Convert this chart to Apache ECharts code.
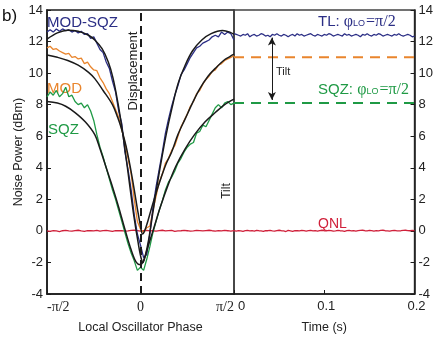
<!DOCTYPE html>
<html><head><meta charset="utf-8">
<script src="https://cdn.jsdelivr.net/npm/echarts@6/dist/echarts.min.js"></script>
<style>html,body{margin:0;padding:0;background:#fff}#c{width:436px;height:339px}</style>
</head><body><div id="c"></div>
<script>
// ---- tick labels ----
const phaseTickLabels = ['-π/2', '0', 'π/2'];   // at -90, 0, 90 degrees
const timeTickLabels = ['0', '0.1', '0.2'];

// ---- sampling grids ----
const phaseStartDeg = -90, phaseStepDeg = 3;     // left panel traces
const timeStart = 0, timeStep = 0.0025;          // right panel traces

// ---- left panel: measured traces (dBm) vs LO phase ----
const modSqzTrace = [12.6,12.75,12.6,12.8,12.65,12.8,12.7,12.75,12.6,12.7,
  12.55,12.65,12.45,12.5,12.2,12.3,11.9,11.5,11.3,10.7,
  10.3,9.5,8.8,7.6,6.8,5.0,3.9,2.6,1.0,-0.2,
  -0.9,-1.7,-1.5,-0.2,1.5,2.8,3.9,5.0,6.2,7.1,
  7.9,8.6,9.2,9.9,10.2,10.6,11.0,11.3,11.6,11.7,
  11.9,12.0,12.1,12.3,12.4,12.3,12.6,12.45,12.6,12.5,
  12.1];
const modTrace = [11.6,11.7,11.5,11.55,11.4,11.3,11.2,11.25,11.0,11.05,
  10.9,10.95,10.6,10.7,10.4,10.2,10.15,9.7,9.4,9.0,
  8.7,8.2,7.7,7.2,6.4,5.6,4.6,3.6,2.0,0.6,
  0.1,-0.1,0.2,0.3,1.3,2.2,3.1,3.6,4.3,4.6,
  5.1,5.4,6.0,6.6,7.0,7.4,7.9,8.2,8.7,8.9,
  9.3,9.6,9.8,10.1,10.2,10.5,10.6,10.8,10.9,11.0,
  11.1];
const sqzTrace = [8.5,8.8,8.6,8.9,8.5,8.7,9.1,8.5,8.6,8.2,
  8.0,8.1,7.8,8.0,7.6,7.0,6.1,5.3,4.7,4.0,
  3.3,2.6,2.0,1.3,0.6,-0.1,-0.8,-1.4,-1.9,-2.5,
  -2.3,-2.5,-1.8,-1.0,-0.1,0.6,1.3,1.9,2.6,3.1,
  3.4,3.8,4.3,4.6,5.0,5.3,5.5,5.6,6.2,6.3,
  6.7,6.6,7.0,7.4,7.8,8.0,7.8,8.1,8.2,8.0,
  8.1];
const qnlPhaseTrace = [0.00,-0.03,0.02,0.00,-0.04,0.01,0.03,0.00,-0.02,0.02,
  0.04,0.00,-0.03,0.01,0.02,0.00,0.03,-0.01,0.02,0.03,
  0.00,-0.03,0.01,0.02,0.01,-0.02,0.00,0.03,0.04,0.01,
  -0.02,0.02,0.03,0.00,0.01,-0.01,0.02,0.04,0.00,0.02,
  0.03,-0.03,0.00,0.01,0.03,0.01,-0.02,0.00,0.03,0.02,
  0.00,0.02,0.04,0.01,-0.01,0.02,0.00,0.03,0.01,-0.02,
  0.01];

// ---- left panel: fitted curves [phase deg, dBm] ----
const modSqzFit = [[-90,12.15],[-80,12.55],[-70,12.72],[-60,12.65],[-50,12.4],[-44,12.1],[-37,11.55],
  [-31,10.7],[-26.5,9.7],[-21.7,8.1],[-17.8,6.5],[-14,4.7],[-10,2.7],[-6.3,0.9],[-2.4,-0.7],
  [0.5,-1.7],[2.4,-2.0],[4.5,-1.6],[8,-0.5],[12,1.2],[16,2.9],[21,4.8],[25,6.2],[30,7.7],
  [36,9.3],[43,10.5],[50,11.4],[59,12.1],[68,12.5],[79,12.7],[86,12.6],[90,12.45]];
const modFit = [[-90,11.15],[-80,11.0],[-70,10.8],[-60,10.5],[-50,10.05],[-44,9.65],[-36,8.9],
  [-27,8.0],[-22,7.2],[-18,6.4],[-14,5.4],[-10,4.1],[-6,2.6],[-3,1.4],[0,0.3],[2,-0.2],
  [4,0.0],[7,0.6],[10,1.3],[15,2.4],[20,3.4],[25,4.3],[30,5.0],[36,6.1],[43,7.1],[50,8.1],
  [57,9.0],[65,9.8],[72,10.3],[80,10.8],[86,11.05],[90,11.2]];
const sqzFit = [[-90,8.2],[-80,8.1],[-72,7.9],[-63,7.5],[-53,6.9],[-44,6.1],[-39,5.2],[-33,4.0],
  [-27,2.8],[-21,1.5],[-15,0.1],[-9,-1.2],[-4,-2.0],[0,-2.15],[3.4,-1.8],[7.2,-1.0],[12,0.0],
  [19,1.5],[26.5,2.9],[34,4.1],[43,5.2],[52,6.1],[62,6.9],[72,7.5],[81,8.0],[90,8.35]];
const displacementPhase = 0;

// ---- right panel: traces vs time (s) ----
const tlTrace = [12.50,12.45,12.40,12.35,12.45,12.40,12.50,12.30,12.40,12.45,
  12.35,12.40,12.50,12.45,12.35,12.40,12.30,12.45,12.40,12.50,
  12.40,12.35,12.45,12.40,12.30,12.40,12.45,12.35,12.50,12.40,
  12.45,12.35,12.40,12.45,12.50,12.40,12.35,12.45,12.40,12.35,
  12.45,12.40,12.50,12.45,12.35,12.40,12.45,12.40,12.35,12.50,
  12.40,12.45,12.35,12.40,12.45,12.40,12.30,12.45,12.40,12.50,
  12.40,12.35,12.45,12.40,12.50,12.45,12.35,12.40,12.45,12.40,
  12.35,12.45,12.40,12.50,12.40,12.35,12.40,12.45,12.40,12.30,
  12.35];
const qnlTimeTrace = [0.01,-0.02,0.02,0.00,-0.03,0.01,0.03,0.00,0.01,-0.02,
  0.03,0.01,0.00,-0.03,0.02,0.01,0.03,0.00,-0.02,0.02,
  0.04,0.01,0.00,-0.04,0.03,0.00,-0.03,0.01,0.02,0.00,
  0.03,0.01,-0.02,0.01,0.03,0.00,0.01,-0.02,0.02,0.04,
  0.01,0.00,0.03,0.01,-0.02,0.00,0.03,0.01,0.00,-0.03,
  0.01,0.03,0.00,0.02,-0.02,0.01,0.03,0.04,0.01,0.00,
  0.03,0.01,-0.02,0.01,0.00,0.03,0.04,0.01,0.00,-0.02,
  0.02,0.03,0.01,0.00,0.01,0.03,0.04,0.02,0.01,0.03,
  0.01];
const modLevel = 11.0;     // MOD at phi=pi/2 (dashed)
const sqzLevel = 8.1;      // SQZ at phi=pi/2 (dashed)
const tiltArrow = {t: 0.042, from: 12.25, to: 8.3};

// ---- colours ----
const NAVY = '#2b2e85', ORANGE = '#e9852d', GREEN = '#1f9a45', RED = '#d0203a', INK = '#1a1a1a';

const onPhase = arr => arr.map((v, i) => [phaseStartDeg + i * phaseStepDeg, v]);
const onTime = arr => arr.map((v, i) => [timeStart + i * timeStep, v]);

const SANS = 'Liberation Sans';
const axisLabelStyle = {fontFamily: SANS, fontSize: 13, color: '#222'};
const axisLineStyle = {show: true, onZero: false, lineStyle: {color: INK, width: 1.5}};
const axisTickStyle = {show: true, inside: true, length: 4, lineStyle: {color: INK}};

const chart = echarts.init(document.getElementById('c'), null, {renderer: 'canvas'});
const yCommon = {
  type: 'value', min: -4, max: 14, interval: 2,
  splitLine: {show: false},
  axisLine: axisLineStyle,
  axisTick: axisTickStyle
};
chart.setOption({
  animation: false,
  backgroundColor: '#fff',
  grid: [
    {left: 47, right: 202, top: 10, bottom: 39, show: true, borderColor: INK, borderWidth: 1.5, backgroundColor: 'transparent'},
    {left: 234, right: 21, top: 10, bottom: 39, show: true, borderColor: '#444', borderWidth: 1.5, backgroundColor: 'transparent'}
  ],
  xAxis: [
    {gridIndex: 0, type: 'value', min: -90, max: 90, interval: 90,
     name: 'Local Oscillator Phase', nameLocation: 'middle', nameGap: 27,
     nameTextStyle: {fontFamily: SANS, fontSize: 12.5, color: '#222'},
     splitLine: {show: false},
     axisLine: axisLineStyle,
     axisTick: axisTickStyle,
     axisLabel: {fontFamily: 'Liberation Serif', fontSize: 14, color: '#222', margin: 6,
       alignMinLabel: 'left', alignMaxLabel: 'right',
       formatter: v => phaseTickLabels[Math.round((v + 90) / 90)]}},
    {gridIndex: 1, type: 'value', min: 0, max: 0.2, interval: 0.1,
     name: 'Time (s)', nameLocation: 'middle', nameGap: 27,
     nameTextStyle: {fontFamily: SANS, fontSize: 12.5, color: '#222'},
     splitLine: {show: false},
     axisLine: axisLineStyle,
     axisTick: axisTickStyle,
     axisLabel: Object.assign({}, axisLabelStyle, {margin: 6, alignMinLabel: 'left', padding: [0, 0, 0, 4],
       formatter: v => timeTickLabels[Math.round(v / 0.1)]})}
  ],
  yAxis: [
    Object.assign({}, yCommon, {gridIndex: 0, position: 'left',
      name: 'Noise Power (dBm)', nameLocation: 'middle', nameGap: 18, nameRotate: 90,
      nameTextStyle: {fontFamily: SANS, fontSize: 12.5, color: '#222'},
      axisLabel: Object.assign({}, axisLabelStyle, {margin: 4})}),
    Object.assign({}, yCommon, {gridIndex: 1, position: 'right',
      axisLabel: Object.assign({}, axisLabelStyle, {margin: 4})})
  ],
  series: [
    {type: 'line', xAxisIndex: 0, yAxisIndex: 0, data: onPhase(qnlPhaseTrace), symbol: 'none', lineStyle: {color: RED, width: 1.3},
     markLine: {silent: true, symbol: ['none', 'none'], label: {show: false},
       lineStyle: {color: INK, width: 2, type: [8, 5]},
       data: [[{coord: [displacementPhase, -4]}, {coord: [displacementPhase, 14]}]]}},
    {type: 'line', xAxisIndex: 0, yAxisIndex: 0, data: onPhase(sqzTrace), symbol: 'none', lineStyle: {color: GREEN, width: 1.3}},
    {type: 'line', xAxisIndex: 0, yAxisIndex: 0, data: onPhase(modTrace), symbol: 'none', lineStyle: {color: ORANGE, width: 1.3}},
    {type: 'line', xAxisIndex: 0, yAxisIndex: 0, data: onPhase(modSqzTrace), symbol: 'none', lineStyle: {color: NAVY, width: 1.3}},
    {type: 'line', xAxisIndex: 0, yAxisIndex: 0, data: sqzFit, symbol: 'none', smooth: 0.35, lineStyle: {color: INK, width: 1.5}},
    {type: 'line', xAxisIndex: 0, yAxisIndex: 0, data: modFit, symbol: 'none', smooth: 0.35, lineStyle: {color: INK, width: 1.5}},
    {type: 'line', xAxisIndex: 0, yAxisIndex: 0, data: modSqzFit, symbol: 'none', smooth: 0.35, lineStyle: {color: INK, width: 1.5}},

    {type: 'line', xAxisIndex: 1, yAxisIndex: 1, data: onTime(qnlTimeTrace), symbol: 'none', lineStyle: {color: RED, width: 1.3}},
    {type: 'line', xAxisIndex: 1, yAxisIndex: 1, data: onTime(tlTrace), symbol: 'none', lineStyle: {color: NAVY, width: 1.3},
     markLine: {silent: true, symbol: ['arrow', 'arrow'], symbolSize: [6, 8], label: {show: false},
       lineStyle: {color: INK, width: 1, type: 'solid'},
       data: [[{coord: [tiltArrow.t, tiltArrow.from]}, {coord: [tiltArrow.t, tiltArrow.to]}]]}},
    {type: 'line', xAxisIndex: 1, yAxisIndex: 1, data: [[0, modLevel], [0.2, modLevel]], symbol: 'none', lineStyle: {color: ORANGE, width: 2, type: [10, 7]}},
    {type: 'line', xAxisIndex: 1, yAxisIndex: 1, data: [[0, sqzLevel], [0.2, sqzLevel]], symbol: 'none', lineStyle: {color: GREEN, width: 2, type: [10, 7]}}
  ],
  graphic: [
    {type: 'text', x: 2, y: 16, style: {text: 'b)', font: '17px "Liberation Sans"', fill: '#111', verticalAlign: 'middle'}},
    {type: 'text', x: 133, y: 71, rotation: Math.PI / 2, style: {text: 'Displacement', font: '13px "Liberation Sans"', fill: '#222', align: 'center', verticalAlign: 'middle'}},
    {type: 'text', x: 227, y: 191, rotation: Math.PI / 2, style: {text: 'Tilt', font: '12px "Liberation Sans"', fill: '#222', align: 'center', verticalAlign: 'middle'}},
    {type: 'text', x: 47, y: 23, style: {text: 'MOD-SQZ', font: '15px "Liberation Sans"', fill: NAVY, verticalAlign: 'middle'}},
    {type: 'text', x: 47, y: 89, style: {text: 'MOD', font: '15px "Liberation Sans"', fill: ORANGE, verticalAlign: 'middle'}},
    {type: 'text', x: 48, y: 130, style: {text: 'SQZ', font: '15px "Liberation Sans"', fill: GREEN, verticalAlign: 'middle'}},
    {type: 'text', x: 318, y: 224, style: {text: 'QNL', font: '14px "Liberation Sans"', fill: RED, verticalAlign: 'middle'}},
    {type: 'text', x: 276, y: 72, style: {text: 'Tilt', font: '11px "Liberation Sans"', fill: '#222', verticalAlign: 'middle'}},
    {type: 'text', x: 318, y: 22, style: {text: '{a|TL: }{g|φ}{s|LO}{g|=π/2}', fill: NAVY, verticalAlign: 'middle',
      rich: {a: {font: '15px "Liberation Sans"', fill: NAVY}, g: {font: '16px "Liberation Serif"', fill: NAVY}, s: {font: '9px "Liberation Sans"', fill: NAVY, padding: [4, 1, 0, 0]}}}},
    {type: 'text', x: 318, y: 90, style: {text: '{a|SQZ: }{g|φ}{s|LO}{g|=π/2}', fill: GREEN, verticalAlign: 'middle',
      rich: {a: {font: '15px "Liberation Sans"', fill: GREEN}, g: {font: '16px "Liberation Serif"', fill: GREEN}, s: {font: '9px "Liberation Sans"', fill: GREEN, padding: [4, 1, 0, 0]}}}}
  ]
});
</script>
</body></html>
